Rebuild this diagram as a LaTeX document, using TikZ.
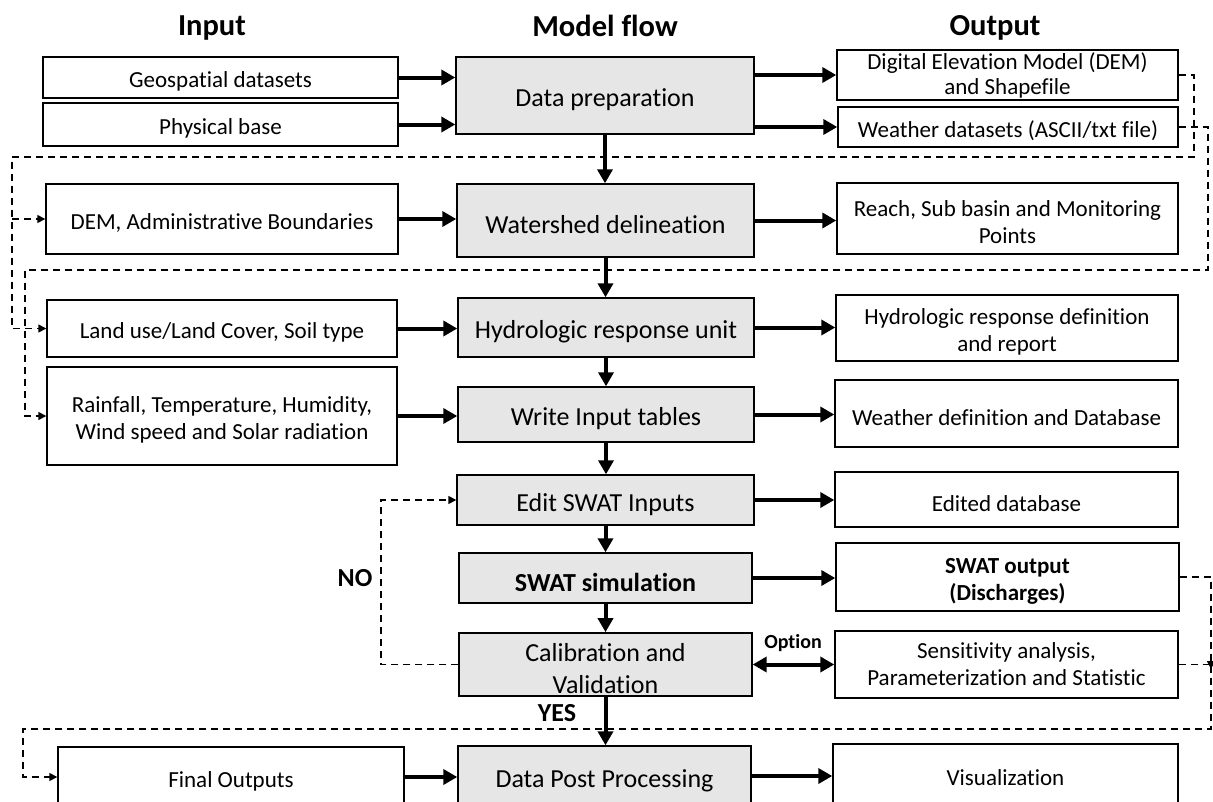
\documentclass[tikz,border=0pt]{standalone}
\usepackage{fontspec}
\setmainfont{Carlito}[Ligatures=NoCommon]
\usetikzlibrary{arrows.meta,calc}
\definecolor{boxgray}{HTML}{E6E6E6}
\newcommand{\tstrut}{\rule{0pt}{1.04em}}
\tikzset{
  ibox/.style={draw=black, line width=1.4pt, fill=white, rectangle, inner sep=2pt, align=center, font=\fontsize{23}{27}\selectfont, execute at begin node={\tstrut}},
  mbox/.style={draw=black, line width=1.4pt, fill=boxgray, rectangle, inner sep=2pt, align=center, font=\fontsize{26}{32}\selectfont, execute at begin node={\tstrut}},
  hdr/.style={font=\fontsize{30.5}{35}\selectfont\bfseries},
  lbl/.style={font=\fontsize{26}{30}\selectfont\bfseries},
  arr/.style={line width=4pt, -{Triangle[length=14pt,width=15pt]}},
  darr/.style={line width=4pt, {Triangle[length=14pt,width=15pt]}-{Triangle[length=14pt,width=15pt]}},
  dsh/.style={line width=1.5pt, dash pattern=on 7pt off 5pt},
  dsharr/.style={dsh, -{Triangle[length=8pt,width=8pt]}},
}
\begin{document}
\begin{tikzpicture}[x=1pt,y=-1pt]
\useasboundingbox (0,0) rectangle (1213,801);
% headers
\node[hdr] (hin) at (212,28) {Input};
\node[hdr] (hmf) at (605,26) {Model flow};
\node[hdr] (hout) at (995,28) {Output};
% input column
\node[ibox, minimum width=355pt, minimum height=41pt] (geo) at (220.5,77.5) {Geospatial datasets};
\node[ibox, minimum width=355pt, minimum height=43pt] (phys) at (220.5,124.5) {Physical base};
\node[ibox, minimum width=352pt, minimum height=70pt] (demin) at (222,219) {DEM, Administrative Boundaries};
\node[ibox, minimum width=350pt, minimum height=57pt] (land) at (222,328.5) {Land use/Land Cover, Soil type};
\node[ibox, minimum width=350pt, minimum height=98pt] (rain) at (222,416) {\tstrut Rainfall, Temperature, Humidity,\\Wind speed and Solar radiation};
\node[ibox, minimum width=346pt, minimum height=60pt] (final) at (231,777) {Final Outputs};
% model column
\node[mbox, minimum width=298pt, minimum height=77pt] (prep) at (605,95.5) {Data preparation};
\node[mbox, minimum width=297pt, minimum height=73pt] (wsd) at (605.5,220.5) {Watershed delineation};
\node[mbox, minimum width=296pt, minimum height=59pt] (hru) at (606,327.5) {Hydrologic response unit};
\node[mbox, minimum width=296pt, minimum height=55pt] (wit) at (606,414.5) {Write Input tables};
\node[mbox, minimum width=297pt, minimum height=50pt] (edit) at (605.5,500) {Edit SWAT Inputs};
\node[mbox, minimum width=293pt, minimum height=50pt, font=\fontsize{26}{32}\selectfont\bfseries] (sim) at (605.5,578) {SWAT simulation};
\node[mbox, minimum width=293pt, minimum height=61pt] (cal) at (605.5,664.5) {\tstrut Calibration and\\Validation};
\node[mbox, minimum width=293pt, minimum height=60pt] (post) at (604.5,776) {Data Post Processing};
% output column
\node[ibox, minimum width=341pt, minimum height=50pt, inner ysep=0pt, font=\fontsize{23}{25}\selectfont, execute at begin node={}] (odem) at (1007.5,75) {\rule{0pt}{0.8em}Digital Elevation Model (DEM)\\and Shapefile};
\node[ibox, minimum width=340pt, minimum height=40pt] (owea) at (1008,127) {Weather datasets (ASCII/txt file)};
\node[ibox, minimum width=341pt, minimum height=71pt] (oreach) at (1007.5,218.5) {\tstrut Reach, Sub basin and Monitoring\\Points};
\node[ibox, minimum width=342pt, minimum height=66pt] (ohru) at (1007,328) {\tstrut Hydrologic response definition\\and report};
\node[ibox, minimum width=343pt, minimum height=67pt] (owdef) at (1006.5,413.5) {Weather definition and Database};
\node[ibox, minimum width=343pt, minimum height=55pt] (oedit) at (1006.5,499.5) {Edited database};
\node[ibox, minimum width=343pt, minimum height=68pt, font=\fontsize{23}{27}\selectfont\bfseries] (oswat) at (1007.5,577) {\tstrut SWAT output\\(Discharges)};
\node[ibox, minimum width=343pt, minimum height=67pt] (osens) at (1006.5,664.5) {Sensitivity analysis,\\Parameterization and Statistic};
\node[ibox, minimum width=345pt, minimum height=60pt] (ovis) at (1005.5,774) {Visualization};
% labels
\node[lbl] (no) at (355,578) {NO};
\node[lbl] (yes) at (557,713) {YES};
\node[font=\fontsize{20}{24}\selectfont\bfseries] (opt) at (793,643) {Option};
% dashed feedback connectors
\coordinate (r1) at (1194,157);
\coordinate (l1) at (12,328.5);
\coordinate (l1b) at (12,219);
\coordinate (r2) at (1208,270);
\coordinate (l2) at (25,416);
\coordinate (r3) at (1211,729);
\coordinate (l3) at (23,777);
\coordinate (r3s) at (1211,669);
\coordinate (nol) at (381,500);
\draw[dsharr] (odem.east) -| (r1) -| (l1) -- (land.west);
\draw[dsharr] (l1b) -- (demin.west);
\draw[dsharr] (owea.east) -| (r2) -| (l2) -- (rain.west);
\draw[dsharr] (oswat.east) -| (r3) -| (l3) -- (final.west);
\draw[dsharr] (osens.east) -| (r3s);
\draw[dsharr] (cal.west) -| (nol) -- (edit.west);
% solid arrows: input -> model
\draw[arr] (geo.east) -- (geo.east -| prep.west);
\draw[arr] (phys.east) -- (phys.east -| prep.west);
\draw[arr] (demin.east) -- (demin.east -| wsd.west);
\draw[arr] (land.east) -- (land.east -| hru.west);
\draw[arr] (rain.east) -- (rain.east -| wit.west);
\draw[arr] (final.east) -- (final.east -| post.west);
% model -> output
\draw[arr] (prep.east |- odem.west) -- (odem.west);
\draw[arr] (prep.east |- owea.west) -- (owea.west);
\draw[arr] (wsd.east) -- (wsd.east -| oreach.west);
\draw[arr] (hru.east) -- (hru.east -| ohru.west);
\draw[arr] (wit.east) -- (wit.east -| owdef.west);
\draw[arr] (edit.east) -- (edit.east -| oedit.west);
\draw[arr] (sim.east) -- (sim.east -| oswat.west);
\draw[darr] (cal.east) -- (cal.east -| osens.west);
\draw[arr] (post.east) -- (post.east -| ovis.west);
% vertical flow
\draw[arr] (prep.south) -- (prep.south |- wsd.north);
\draw[arr] (wsd.south) -- (wsd.south |- hru.north);
\draw[arr] (hru.south) -- (hru.south |- wit.north);
\draw[arr] (wit.south) -- (wit.south |- edit.north);
\draw[arr] (edit.south) -- (edit.south |- sim.north);
\draw[arr] (sim.south) -- (sim.south |- cal.north);
\draw[arr] (cal.south) -- (cal.south |- post.north);
\end{tikzpicture}
\end{document}
